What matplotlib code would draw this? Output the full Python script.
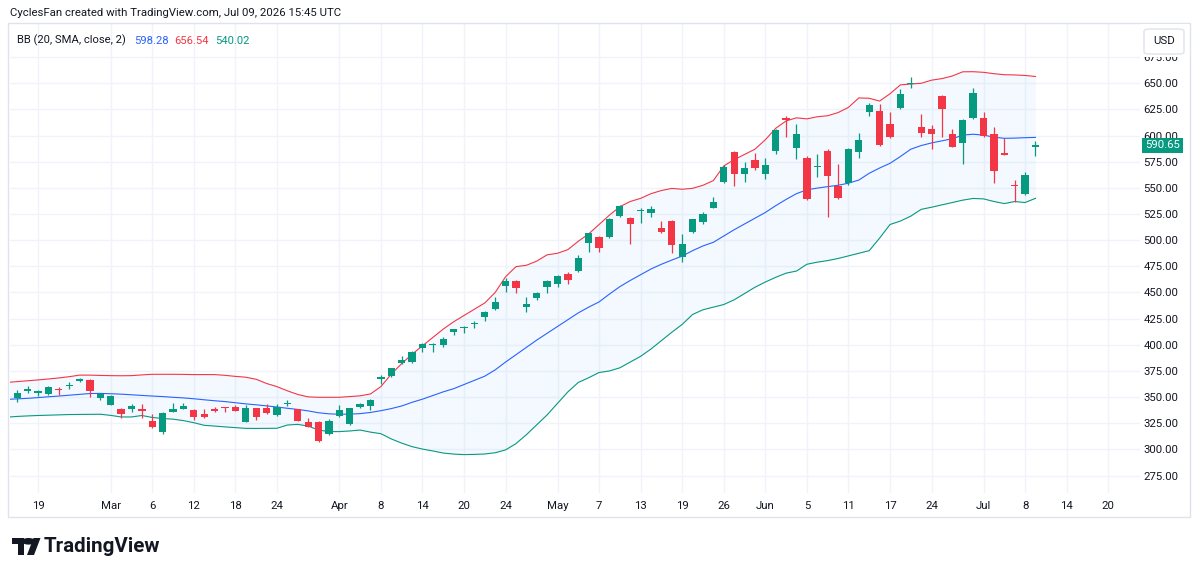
import numpy as np
import pandas as pd
import matplotlib
matplotlib.use("Agg")
import matplotlib.pyplot as plt
import matplotlib.transforms as mtransforms
from matplotlib.patches import Rectangle, FancyBboxPatch, Polygon, Circle

plt.rcParams['font.family'] = ['Roboto', 'DejaVu Sans']

W, H = 1200, 574

# trading calendar (US holidays skipped)
holidays = ["2026-02-16", "2026-04-03", "2026-05-25", "2026-06-19", "2026-07-03"]
days = pd.bdate_range("2026-02-13", "2026-07-24", freq="C", holidays=holidays)

# daily OHLC, Feb 13 .. Jul 09 2026
opens = [350.5, 349, 356, 354, 352.7, 357.7, 360.7, 365, 366.4, 349,
         342.4, 338.4, 339, 339, 327.6, 316.2, 335.5, 339, 338, 334,
         338.4, 340.3, 340.3, 326.6, 339.3, 339.3, 332.7, 343.6, 338.4, 326,
         326, 314.8, 331.6, 324.2, 340.2, 341.5, 367, 370.2, 382.4, 384,
         397.2, 400, 399.8, 412, 416.3, 419.6, 426.2, 434.2, 456.4, 461,
         436.3, 444.5, 455, 457.8, 467.3, 470.6, 497.1, 503.3, 503.3, 523.4,
         521.5, 527.6, 525.7, 511.4, 518.4, 483.6, 507.5, 517.7, 531.1, 556,
         584, 563.3, 576.4, 563.3, 585.3, 616.5, 588, 578.2, 570, 585,
         551.8, 554.4, 584.6, 622.8, 623.8, 611, 626, 649.5, 607.9, 606,
         637.9, 601.5, 593.2, 616.5, 616.5, 601.5, 583, 552.7, 544.1, 589.5]
highs = [355, 357, 361, 357, 361, 360, 364.2, 368, 367, 353.6,
         352, 339.3, 343, 343, 333.4, 335.5, 344.6, 344.6, 338.5, 338.8,
         341, 340.5, 342.5, 342.5, 340, 343.3, 343, 347.2, 339, 329.8,
         327, 329.4, 342.2, 340, 344, 348, 371, 378, 389.3, 394,
         401.3, 401.5, 407.8, 415.5, 418, 422.7, 432, 446, 463.6, 462,
         446, 450.8, 462, 466.7, 469.3, 485.8, 507, 504, 521, 534,
         522, 531, 532.6, 518.4, 519, 505.7, 520.5, 526.7, 541.6, 572,
         585, 575, 583, 578.2, 606.3, 619, 611, 580.5, 582, 587,
         572.5, 588, 602.2, 631, 630, 622.3, 644.5, 655.7, 620.6, 610,
         639, 606, 615.5, 645.2, 623, 608.5, 597.4, 557.5, 565, 595]
lows = [349, 345, 353.5, 351.5, 352, 352, 357.4, 364.7, 350.5, 347.5,
        342, 330.4, 336, 330.4, 320, 314.6, 335.4, 338.9, 328.5, 330,
        336, 336, 336.8, 326, 328.4, 334, 332, 341.5, 327, 321,
        306.7, 314, 331, 323.5, 339.5, 337.6, 362.2, 369.5, 381.5, 383,
        393.4, 392.8, 398.2, 409.4, 411, 416.3, 422.7, 433.5, 450.8, 449.2,
        431.6, 442.8, 449.8, 455.6, 457.8, 470, 488.4, 488.4, 502, 522.5,
        496, 516, 522.5, 506.6, 487.5, 478.9, 507, 515.2, 530.5, 555,
        552, 555.3, 567, 558.2, 582, 599, 578, 538, 560.7, 522.5,
        539, 553, 578.9, 618.7, 590, 598, 625, 645.2, 598.4, 587,
        599, 589, 572.6, 616, 599, 555, 581, 536.8, 543.5, 580.5]
closes = [353, 353.6, 357.5, 355.5, 359.4, 356.8, 361.6, 367, 356.2, 352.7,
          351.3, 333.6, 341.5, 337, 321, 335, 339, 341.5, 331, 331,
          337.1, 339.5, 337, 339.3, 331.3, 335, 340.3, 344.6, 327.5, 321.6,
          308.2, 327.5, 337.3, 339.3, 343.3, 347.2, 369.5, 377.5, 385.5, 393,
          400.7, 401, 405.3, 415, 417.3, 420.5, 431.6, 440.5, 461, 454,
          438.6, 449.2, 461, 465.7, 461.7, 482.7, 506.6, 492.3, 520.3, 533,
          515.2, 528.8, 529.8, 508.2, 495.4, 496.4, 520, 524.8, 536.8, 570.3,
          563.3, 569.3, 569.3, 571.9, 605.4, 615.2, 602, 539.4, 571.2, 561.5,
          540.6, 587.2, 595.8, 629.3, 591, 599, 639.8, 650.5, 602.8, 601.2,
          625.1, 589.4, 614.9, 641, 599.6, 566.4, 581.5, 551.8, 562.3, 590.65]

# Bollinger Bands (20, SMA, close, 2)
bb_upper = [364, 364.8, 365.6, 366.4, 367.3, 368.3, 369.5, 371, 371, 370.7,
            370.5, 370.4, 370.5, 371.2, 371.8, 371.8, 371.8, 371.7, 371.5, 371.5,
            371.5, 370.8, 369.8, 369, 367, 363, 360, 356, 352.5, 350.2,
            349.8, 349.8, 349.8, 350.5, 351.2, 353, 360, 372, 382, 391,
            399, 407, 415, 422, 428, 434, 440, 450, 465, 474.7,
            476, 480, 486, 487.5, 491, 499, 506, 515, 524, 532,
            537, 540, 544.5, 547.5, 549.5, 548.7, 549.6, 552.5, 557, 571,
            577, 582, 587, 596, 607, 614, 617, 616, 618, 619,
            622, 627, 636, 635.7, 633, 640, 648.5, 649.3, 650, 653,
            654.5, 657, 661, 661.1, 660.5, 659.2, 658.2, 658, 657.5, 656.54]
bb_basis = [347.8, 348.3, 348.8, 349.5, 350.3, 351, 351.8, 352.6, 353.4, 353.5,
            353.2, 352.8, 352.2, 351.6, 351, 350.5, 349.8, 349.2, 348.4, 347.4,
            346.5, 345.7, 344.6, 343.5, 342.6, 341.6, 340.5, 339.3, 338.2, 336.8,
            335, 334, 333.6, 333.7, 334.2, 335.3, 337, 339, 341.5, 345,
            348, 351.5, 355, 358, 362, 366, 370, 376, 383.5, 390.5,
            397.5, 404.5, 411, 417.5, 424, 430.5, 436, 441, 448.5, 455.6,
            461.5, 467, 472.5, 477, 481, 484.8, 490, 494.5, 498, 504,
            510, 515.5, 521, 526.5, 533, 539, 544.5, 548.2, 549.8, 551.2,
            552.5, 554.5, 557.5, 564, 569, 573.5, 580, 587, 590.5, 593,
            595, 597, 600.5, 601.3, 600.5, 598.5, 597.4, 597.6, 598, 598.28]
bb_lower = [330.8, 331.5, 332, 332.4, 332.7, 333, 333.3, 333.4, 333.5, 333.6,
            332.5, 331, 331, 332.4, 330.5, 329.5, 328.9, 327.5, 325.5, 323,
            322.3, 321.5, 320.8, 320.1, 320, 320.1, 320.2, 323.3, 323.9, 322.3,
            318.5, 317, 317, 317.6, 318.5, 316.5, 315, 310, 306, 302.6,
            300.3, 298.5, 296.5, 295.5, 295, 295.2, 295.6, 296.8, 299.5, 305.5,
            314, 323.5, 333, 344, 355, 364, 368.5, 373.5, 375, 378,
            383.5, 389, 396, 404, 412, 419.5, 429, 433.5, 436, 438.5,
            443, 449, 455, 460, 464.5, 468.5, 470.5, 477, 479, 480.5,
            482.5, 485, 487.5, 490, 502, 515, 518.3, 523, 529.5, 531.5,
            533.8, 536, 538.3, 539.9, 539.5, 537, 535, 537, 536, 540.02]

tick_dates = ["2026-02-19", "2026-03-02", "2026-03-06", "2026-03-12", "2026-03-18",
              "2026-03-24", "2026-04-01", "2026-04-08", "2026-04-14", "2026-04-20",
              "2026-04-24", "2026-05-01", "2026-05-07", "2026-05-13", "2026-05-19",
              "2026-05-26", "2026-06-01", "2026-06-05", "2026-06-11", "2026-06-17",
              "2026-06-24", "2026-07-01", "2026-07-08", "2026-07-14", "2026-07-20"]
tick_labels = ["19", "Mar", "6", "12", "18", "24", "Apr", "8", "14", "20", "24",
               "May", "7", "13", "19", "26", "Jun", "5", "11", "17", "24",
               "Jul", "8", "14", "20"]
price_ticks = list(range(275, 700, 25))

GREEN = "#089981"
RED = "#f23645"
BLUE = "#2962ff"
TEXT = "#131722"
GRID = "#f0f3fa"

n = len(closes)
x = np.arange(n)
o = np.array(opens); h = np.array(highs); l = np.array(lows); c = np.array(closes)
up = c >= o
cols = np.where(up, GREEN, RED)


def fx(px):
    return px / W


def fy(py):
    return 1 - py / H


fig = plt.figure(figsize=(W / 100, H / 100), dpi=100)
fig.patch.set_facecolor("white")

# chart pane
pl, pr, pt, pb = 10, 1140, 24, 493
ax = fig.add_axes([fx(pl), fy(pb), fx(pr - pl), (pb - pt) / H])
ax.set_xlim(0.305, 109.06)
ax.set_ylim(258.3, 706.7)
for s in ax.spines.values():
    s.set_visible(False)

tick_pos = [days.get_loc(pd.Timestamp(d)) for d in tick_dates]
ax.set_xticks(tick_pos)
ax.set_xticklabels(tick_labels)
ax.set_yticks(price_ticks)
ax.set_yticklabels([f"{v:.2f}" for v in price_ticks])
ax.yaxis.tick_right()
ax.tick_params(axis="both", length=0, labelsize=8.2, colors=TEXT)
ax.tick_params(axis="x", pad=6)
ax.tick_params(axis="y", pad=2.5)
ax.grid(True, color=GRID, linewidth=1)
ax.set_axisbelow(True)

# bands
ax.fill_between(x, bb_lower, bb_upper, color="#2196f3", alpha=0.05, linewidth=0, zorder=1)
ax.plot(x, bb_upper, color=RED, linewidth=0.8, zorder=2)
ax.plot(x, bb_basis, color=BLUE, linewidth=0.8, zorder=2)
ax.plot(x, bb_lower, color=GREEN, linewidth=0.8, zorder=2)

# candles
ax.vlines(x, l, h, colors=cols, linewidth=0.9, zorder=3)
body_lo = np.minimum(o, c)
body_h = np.maximum(np.abs(c - o), 1.0)
ax.bar(x, body_h, bottom=body_lo, width=0.7, color=cols, linewidth=0, zorder=4)

# last price label
trans = mtransforms.blended_transform_factory(ax.transAxes, ax.transData)
ax.text(1.0 + 5 / (pr - pl), c[-1], f"{c[-1]:.2f}", transform=trans, ha="left", va="center",
        color="white", fontsize=8.2, clip_on=False, zorder=6,
        bbox=dict(boxstyle="square,pad=0.25", fc=GREEN, ec="none"))

# frame
fig.add_artist(Rectangle((fx(8), fy(517)), fx(1190 - 8), (517 - 23) / H, transform=fig.transFigure,
                         fill=False, ec="#e0e3eb", lw=1, zorder=5))

# USD button (covers the top of the price scale)
fig.add_artist(Rectangle((fx(1141), fy(57)), fx(48), 33 / H, transform=fig.transFigure,
                         fc="white", ec="none", zorder=7))
fig.add_artist(FancyBboxPatch((fx(1144), fy(54)), fx(40), 25 / H, transform=fig.transFigure,
                              boxstyle="round,pad=0,rounding_size=0.004", fc="white", ec="#e0e3eb",
                              lw=1, zorder=8))
fig.text(fx(1164), fy(41.5), "USD", ha="center", va="center", fontsize=8.2, color=TEXT, zorder=9)

# header + indicator legend
fig.text(fx(10), fy(13), "CyclesFan created with TradingView.com, Jul 09, 2026 15:45 UTC",
         ha="left", va="center", fontsize=8.2, color=TEXT)
fig.text(fx(17), fy(40.5), "BB (20, SMA, close, 2)", ha="left", va="center", fontsize=8.1, color=TEXT)
fig.text(fx(134), fy(40.5), f"{bb_basis[-1]:.2f}", ha="left", va="center", fontsize=8.1, color=BLUE)
fig.text(fx(174), fy(40.5), f"{bb_upper[-1]:.2f}", ha="left", va="center", fontsize=8.1, color=RED)
fig.text(fx(215), fy(40.5), f"{bb_lower[-1]:.2f}", ha="left", va="center", fontsize=8.1, color=GREEN)

# TradingView logo
fig.add_artist(Polygon([(fx(12), fy(538)), (fx(24), fy(538)), (fx(24), fy(555)), (fx(18), fy(555)),
                        (fx(18), fy(544)), (fx(12), fy(544))], closed=True, transform=fig.transFigure,
                       fc=TEXT, ec="none"))
fig.add_artist(Circle((fx(28.5), fy(541.3)), 3.3 / H, transform=fig.transFigure, fc=TEXT, ec="none"))
fig.add_artist(Polygon([(fx(33.5), fy(538)), (fx(40.5), fy(538)), (fx(34), fy(555)), (fx(27), fy(555))],
                       closed=True, transform=fig.transFigure, fc=TEXT, ec="none"))
fig.text(fx(44), fy(546.5), "TradingView", ha="left", va="center", fontsize=14.8, fontweight="bold",
         color=TEXT)

fig.savefig("out.png", dpi=100)
